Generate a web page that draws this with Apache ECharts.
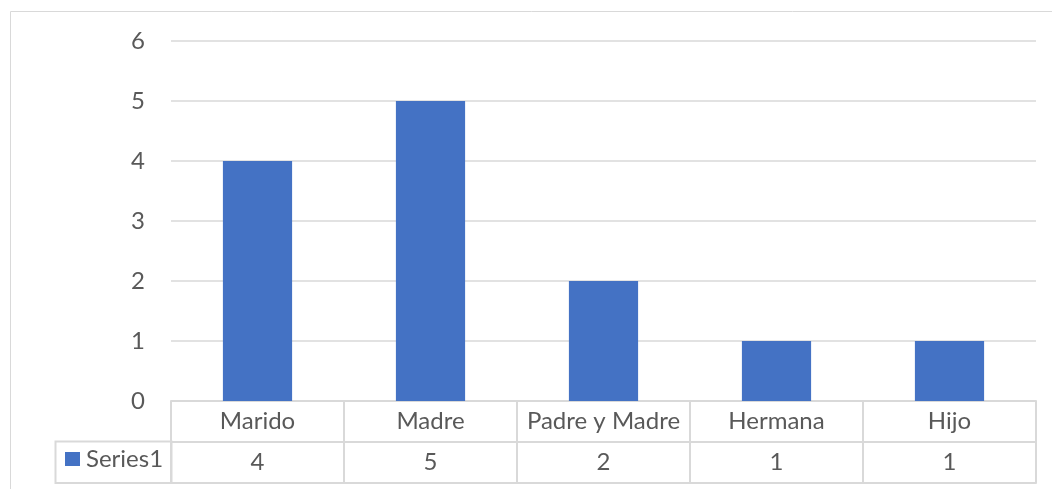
<!DOCTYPE html>
<html>
<head>
<meta charset="utf-8">
<script src="https://cdn.jsdelivr.net/npm/echarts@6/dist/echarts.min.js"></script>
<style>html,body{margin:0;padding:0;background:#fff}#c{width:1052px;height:489px}</style>
</head>
<body>
<div id="c"></div>
<script>
const categories = ['Marido', 'Madre', 'Padre y Madre', 'Hermana', 'Hijo'];
const seriesName = 'Series1';
const values = [4, 5, 2, 1, 1];
const yTicks = [0, 1, 2, 3, 4, 5, 6];

const FONT = 'Lato';
const TXT = '#595959';
const LINE = '#d9d9d9';
const chart = echarts.init(document.getElementById('c'));
chart.setOption({
  animation: false,
  textStyle: { fontFamily: FONT },
  grid: { left: 171, right: 16, top: 41, bottom: 88 },
  legend: {
    show: true,
    data: [seriesName],
    left: 65, top: 447, padding: 0,
    icon: 'rect', itemWidth: 15, itemHeight: 14,
    textStyle: { fontFamily: FONT, fontSize: 24, color: TXT, padding: [0, 0, 0, 1] },
    selectedMode: false
  },
  graphic: [
    { type: 'rect', shape: { x: 10.5, y: 11.5, width: 1200, height: 1000 }, style: { fill: 'none', stroke: LINE, lineWidth: 1 }, silent: true, z: -1 },
    { type: 'rect', shape: { x: 55.5, y: 441.5, width: 116, height: 41.5 }, style: { fill: 'none', stroke: LINE, lineWidth: 2 }, silent: true }
  ],
  xAxis: [
    {
      type: 'category', data: categories, position: 'bottom',
      axisLine: { lineStyle: { color: LINE, width: 2 } },
      axisTick: { show: true, length: 41, lineStyle: { color: LINE, width: 2 } },
      axisLabel: { fontSize: 24, color: TXT, margin: 20, verticalAlign: 'middle', fontFamily: FONT, interval: 0 }
    },
    {
      type: 'category', data: values.map(String), position: 'bottom', offset: 41,
      axisLine: { lineStyle: { color: LINE, width: 2 } },
      axisTick: { show: true, length: 41, lineStyle: { color: LINE, width: 2 } },
      axisLabel: { fontSize: 24, color: TXT, margin: 20, verticalAlign: 'middle', fontFamily: FONT, interval: 0 }
    },
    {
      type: 'category', data: categories, position: 'bottom', offset: 82,
      axisLine: { lineStyle: { color: LINE, width: 2 } },
      axisTick: { show: false },
      axisLabel: { show: false }
    }
  ],
  yAxis: {
    type: 'value', min: yTicks[0], max: yTicks[yTicks.length - 1], interval: 1,
    axisLine: { show: false }, axisTick: { show: false },
    axisLabel: { fontSize: 24, color: TXT, margin: 26, fontFamily: FONT },
    splitLine: { lineStyle: { color: LINE, width: 1.5 } }
  },
  series: [{
    name: seriesName, type: 'bar', data: values, xAxisIndex: 0,
    barWidth: '40%', itemStyle: { color: '#4472C4' }
  }]
});
</script>
</body>
</html>
